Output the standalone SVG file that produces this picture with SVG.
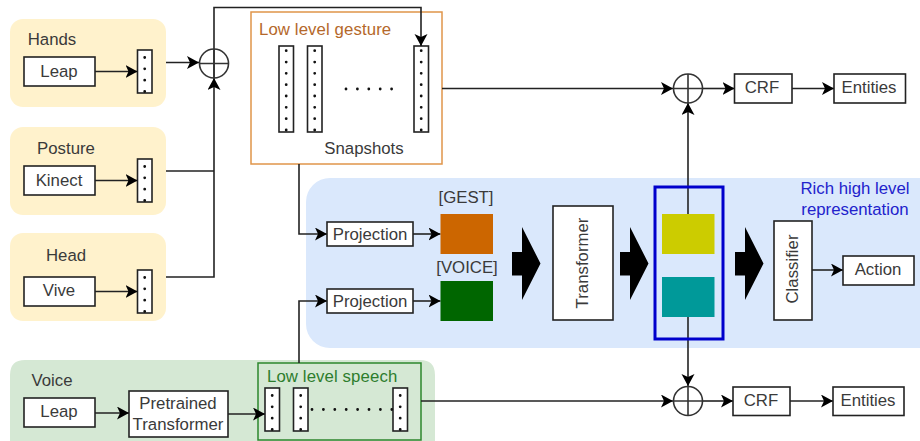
<svg xmlns="http://www.w3.org/2000/svg" xmlns:xlink="http://www.w3.org/1999/xlink" width="920" height="441" viewBox="0 0 920 441">
<style>
text{font-family:"Liberation Sans",Arial,sans-serif;font-size:16.8px;fill:#3a3a3a;text-anchor:middle}
.box{fill:#fff;stroke:#222;stroke-width:1.6}
.vec{fill:#fff;stroke:#222;stroke-width:1.6}
.dots{fill:none;stroke:#111;stroke-width:2.8;stroke-linecap:round;stroke-dasharray:0 11.33}
.con{fill:none;stroke:#222;stroke-width:1.6}
.arr{marker-end:url(#a)}
.sum{fill:none;stroke:#333;stroke-width:1.6}
.st{text-anchor:start}
</style>
<defs>
<marker id="a" markerUnits="userSpaceOnUse" markerWidth="13" markerHeight="14" refX="12" refY="6.500" orient="auto">
<path d="M0 0L12 6.500L0 13L3 6.500Z" fill="#000"/>
</marker>
<g id="vs"><rect class="vec" width="14.5" height="43"/><line class="dots" x1="7.2" y1="7.5" x2="7.2" y2="42"/></g>
<g id="vl"><rect class="vec" width="14.5" height="86"/><line class="dots" x1="7.2" y1="4.7" x2="7.2" y2="85"/></g>
<path id="big" d="M0 25H10V0L28.500 36.500L10 73V48.500H0Z" fill="#000"/>
</defs>

<g id="hands"><rect x="10" y="19" width="156" height="88" rx="13" fill="#fff2cc"/><text x="52" y="45">Hands</text><rect class="box" x="24" y="57" width="71" height="29"/><text x="59" y="77">Leap</text><use xlink:href="#vs" x="137.500" y="50"/></g>
<g id="posture"><rect x="10" y="127" width="156" height="88" rx="13" fill="#fff2cc"/><text x="66" y="154">Posture</text><rect class="box" x="24" y="166" width="71" height="29"/><text x="59" y="186">Kinect</text><use xlink:href="#vs" x="137.500" y="159"/></g>
<g id="head"><rect x="10" y="233" width="156" height="88" rx="13" fill="#fff2cc"/><text x="66" y="261">Head</text><rect class="box" x="24" y="277" width="71" height="29"/><text x="59" y="296">Vive</text><use xlink:href="#vs" x="137.500" y="270"/></g>

<g id="rich"><rect x="306" y="178" width="640" height="170" rx="24" fill="#dae8fc"/><text x="855" y="194" style="fill:#2222cc">Rich high level</text><text x="855" y="215" style="fill:#2222cc">representation</text></g>

<g id="voice"><path d="M25 360H420Q435 360 435 375V441H10V375Q10 360 25 360Z" fill="#d5e8d4"/><text x="52" y="386">Voice</text><rect class="box" x="24" y="398" width="71" height="29"/><text x="59" y="417">Leap</text></g>

<g id="pretrained"><rect class="box" x="129" y="391" width="99" height="46"/><text x="178" y="409">Pretrained</text><text x="178" y="430">Transformer</text></g>

<g id="gesture"><rect x="251" y="12" width="191" height="152" fill="#fff" stroke="#e0954a" stroke-width="1.500"/><text class="st" x="259" y="35" style="fill:#b4682a;letter-spacing:.1px">Low level gesture</text>
<use xlink:href="#vl" x="279" y="46"/><use xlink:href="#vl" x="307.500" y="46"/><use xlink:href="#vl" x="414" y="46"/>
<line class="dots" x1="346" y1="89" x2="393" y2="89" style="stroke-dasharray:0 11.4"/><text x="364" y="154">Snapshots</text></g>

<g id="speech"><rect x="258" y="363" width="163" height="77" fill="#d5e8d4" stroke="#2d862d" stroke-width="1.500"/><text class="st" x="267" y="382" style="fill:#2d7d2d;letter-spacing:.1px">Low level speech</text>
<use xlink:href="#vs" x="265" y="388"/><use xlink:href="#vs" x="293.500" y="388"/><use xlink:href="#vs" x="393" y="388"/>
<line class="dots" x1="312" y1="409.500" x2="393" y2="409.500" style="stroke-dasharray:0 11.4"/></g>

<g id="connectors">
<path class="con arr" d="M95 71.500H137.500"/>
<path class="con arr" d="M95 180.500H137.500"/>
<path class="con arr" d="M95 291.500H137.500"/>
<path class="con arr" d="M166 62.500H199"/>
<path class="con" d="M166 171H214"/>
<path class="con arr" d="M166 277H214V78"/>
<path class="con arr" d="M214 78V7.500H421V46"/>
<path class="con arr" d="M442 88.500H673"/>
<path class="con arr" d="M703 88.500H734.500"/>
<path class="con arr" d="M792 88.500H834"/>
<path class="con arr" d="M688 214V103"/>
<path class="con arr" d="M688 316V386"/>
<path class="con arr" d="M421 401H673"/>
<path class="con arr" d="M703 401H733"/>
<path class="con arr" d="M790 401H833"/>
<path class="con arr" d="M299 164V234H327"/>
<path class="con arr" d="M299 363V301H327"/>
<path class="con arr" d="M413 234H440.500"/>
<path class="con arr" d="M413 301H440.500"/>
<path class="con arr" d="M812 270H843"/>
<path class="con arr" d="M95 413H129"/>
<path class="con arr" d="M228 414H265"/>
</g>

<g id="sum1"><circle class="sum" cx="214" cy="63.500" r="14.500"/><path class="sum" d="M199.500 63.500H228.500M214 49V78"/></g>
<g id="sum2"><circle class="sum" cx="688" cy="88.500" r="14.500"/><path class="sum" d="M673.500 88.500H702.500M688 74V103"/></g>
<g id="sum3"><circle class="sum" cx="688" cy="401" r="14.500"/><path class="sum" d="M673.500 401H702.500M688 386.500V415.500"/></g>

<g id="proj1"><rect class="box" x="327" y="222" width="86" height="24"/><text x="370" y="240">Projection</text></g>
<g id="proj2"><rect class="box" x="327" y="289" width="86" height="24"/><text x="370" y="307">Projection</text></g>
<g id="gest"><text x="466" y="203">[GEST]</text><rect x="440.500" y="214" width="52.500" height="40" fill="#cc6600"/></g>
<g id="voicetoken"><text x="467" y="273">[VOICE]</text><rect x="440.500" y="281" width="52.500" height="40" fill="#006600"/></g>
<use xlink:href="#big" x="512" y="227"/>
<g id="transformer"><rect class="box" x="553" y="206" width="60" height="114"/><text transform="translate(588 263) rotate(-90)">Transformer</text></g>
<use xlink:href="#big" x="620" y="227"/>
<g id="rep"><rect x="655" y="187" width="68" height="152" fill="none" stroke="#0000cc" stroke-width="3"/><rect x="662" y="214" width="52.500" height="40" fill="#cccc00"/><rect x="662" y="277" width="52.500" height="40" fill="#009999"/></g>
<use xlink:href="#big" x="735" y="227"/>
<g id="classifier"><rect class="box" x="774" y="221" width="38" height="99"/><text transform="translate(798 269) rotate(-90)">Classifier</text></g>
<g id="action"><rect class="box" x="843" y="256" width="71" height="29"/><text x="878" y="275">Action</text></g>
<g id="crf1"><rect class="box" x="734.500" y="74" width="57.500" height="29"/><text x="762" y="93">CRF</text></g>
<g id="ent1"><rect class="box" x="834" y="74" width="71.500" height="29"/><text x="869" y="93">Entities</text></g>
<g id="crf2"><rect class="box" x="733" y="387" width="57" height="28.500"/><text x="761" y="406">CRF</text></g>
<g id="ent2"><rect class="box" x="833" y="387" width="71" height="28.500"/><text x="868" y="406">Entities</text></g>
</svg>
